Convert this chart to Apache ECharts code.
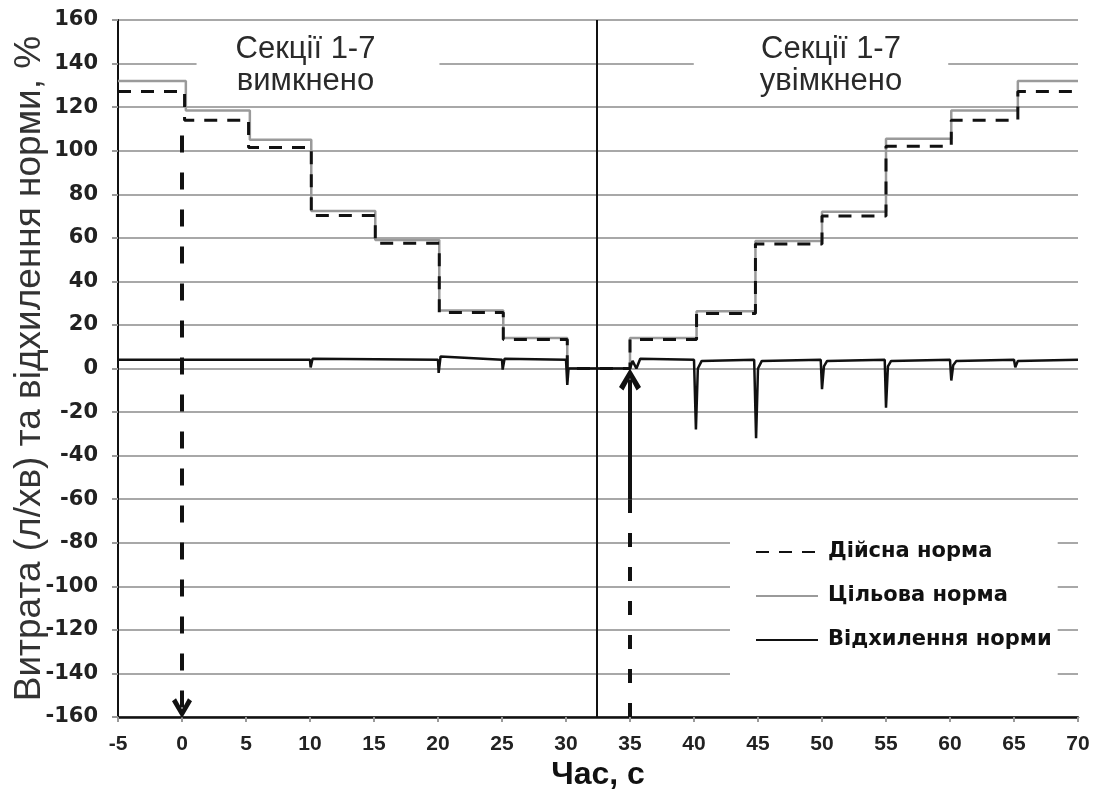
<!DOCTYPE html>
<html>
<head>
<meta charset="utf-8">
<title>Витрата та відхилення норми</title>
<script src="https://cdn.jsdelivr.net/npm/echarts@6.0.0/dist/echarts.min.js"></script>
<style>
    html, body {margin: 0; padding: 0; background: #fff;}
    #chart_1 {width: 1100px; height: 791px;}
</style>
</head>
<body>
<div id="chart_1"></div>
<script>
// series names (legend order)
var seriesNames = ['Дійсна норма', 'Цільова норма', 'Відхилення норми'];

// actual rate, dashed black
var actualNorm = [
    [-5, 127.2], [0.2, 127.2], [0.2, 114], [5.2, 114], [5.2, 101.5], [10.1, 101.5],
    [10.1, 70.2], [15.1, 70.2], [15.1, 57.5], [20.1, 57.5], [20.1, 25.7], [25.1, 25.7],
    [25.1, 13.3], [30.1, 13.3], [30.1, 0], [35.0, 0], [35.0, 13.3], [40.2, 13.3],
    [40.2, 25.2], [44.8, 25.2], [44.8, 57.2], [50.0, 57.2], [50.0, 70], [55.0, 70],
    [55.0, 102], [60.1, 102], [60.1, 114], [65.3, 114], [65.3, 127.2], [70, 127.2]
];

// target rate, grey
var targetNorm = [
    [-5, 132], [0.3, 132], [0.3, 118.5], [5.3, 118.5], [5.3, 105], [10.1, 105],
    [10.1, 72.3], [15.1, 72.3], [15.1, 59], [20.1, 59], [20.1, 26.6], [25.1, 26.6],
    [25.1, 14], [30.1, 14], [30.1, 0], [35.0, 0], [35.0, 14], [40.2, 14],
    [40.2, 26.3], [44.8, 26.3], [44.8, 58.5], [50.0, 58.5], [50.0, 72], [55.0, 72],
    [55.0, 105.5], [60.1, 105.5], [60.1, 118.5], [65.3, 118.5], [65.3, 132], [70, 132]
];

// deviation of the rate, black
var normDeviation = [
    [-5, 4], [10.0, 4], [10.05, 0.5], [10.2, 4.5], [20.0, 4], [20.05, -2], [20.2, 5.5],
    [25.0, 4], [25.05, -0.5], [25.2, 4.5], [30.0, 4], [30.1, -7.5], [30.2, 0],
    [35.0, 0], [35.2, 3.5], [35.5, 0], [35.8, 4.5], [40.0, 4], [40.15, -28],
    [40.3, 0], [40.6, 3.5], [44.7, 4], [44.85, -32], [45.0, 0], [45.3, 3.5],
    [49.9, 4], [50.0, -9.5], [50.15, 1], [50.4, 3.5], [54.9, 4], [55.0, -18],
    [55.15, 1], [55.4, 3.5], [60.0, 4], [60.1, -5.5], [60.25, 1.5], [60.5, 3.5],
    [65.0, 4], [65.1, 0.5], [65.3, 3.5], [70, 4]
];

// divider and arrows
var switchTime = 32.4;
var offArrow = [[0, 107], [0, -156]];
var onDashed = [[35, -160], [35, -60]];
var onArrow = [[35, -60], [35, -5]];

var chevron = 'path://M10,0 L20,17 L16,20 L10,9 L4,20 L0,17 Z';

var myChart = echarts.init(document.getElementById('chart_1'));

var option = {
    animation: false,
    grid: {left: 118, right: 22, top: 20, bottom: 74, outerBoundsMode: 'none'},
    legend: {
        data: seriesNames,
        orient: 'vertical',
        left: 730,
        top: 527,
        itemWidth: 62,
        itemHeight: 14,
        itemGap: 22,
        padding: [14, 6, 26, 25],
        backgroundColor: '#fff',
        itemStyle: {opacity: 0},
        textStyle: {
            fontFamily: 'DejaVu Sans',
            fontWeight: 'bold',
            fontSize: 21,
            lineHeight: 22,
            padding: [0, 0, 0, 5],
            color: '#111'
        }
    },
    xAxis: {
        type: 'value',
        min: -5,
        max: 70,
        interval: 5,
        name: 'Час, с',
        nameLocation: 'middle',
        nameGap: 42,
        nameMoveOverlap: false,
        nameTextStyle: {fontFamily: 'Liberation Sans', fontWeight: 'bold', fontSize: 32, color: '#111'},
        axisLine: {onZero: false, lineStyle: {color: '#111', width: 2.5}},
        axisTick: {show: true, length: 5, lineStyle: {color: '#999', width: 2}},
        axisLabel: {
            margin: 17,
            fontFamily: 'Liberation Sans',
            fontWeight: 'bold',
            fontSize: 21,
            color: '#222'
        },
        splitLine: {show: false}
    },
    yAxis: {
        type: 'value',
        min: -160,
        max: 160,
        interval: 20,
        name: 'Витрата (л/хв) та відхилення норми, %',
        nameLocation: 'middle',
        nameGap: 70,
        nameMoveOverlap: false,
        nameTextStyle: {fontFamily: 'Liberation Sans', fontSize: 37, color: '#333'},
        axisLine: {show: true, onZero: false, lineStyle: {color: '#111', width: 2}},
        axisTick: {show: true, length: 6, lineStyle: {color: '#999', width: 2}},
        axisLabel: {
            margin: 20,
            fontFamily: 'DejaVu Sans',
            fontWeight: 'bold',
            fontSize: 21,
            color: '#222'
        },
        splitLine: {lineStyle: {color: '#a8a8a8', width: 2}}
    },
    graphic: [
        {
            type: 'text', x: 318, y: 30, z: 10,
            style: {
                text: 'Секції 1-7\nвимкнено',
                align: 'center', verticalAlign: 'top',
                fontFamily: 'Liberation Sans', fontSize: 31, lineHeight: 32,
                fill: '#2a2a2a', backgroundColor: '#fff', padding: [3, 64, 2, 39]
            }
        },
        {
            type: 'text', x: 821, y: 30, z: 10,
            style: {
                text: 'Секції 1-7\nувімкнено',
                align: 'center', verticalAlign: 'top',
                fontFamily: 'Liberation Sans', fontSize: 31, lineHeight: 32,
                fill: '#2a2a2a', backgroundColor: '#fff', padding: [3, 46, 2, 66]
            }
        }
    ],
    series: [
        {
            name: seriesNames[1],
            type: 'line',
            symbol: 'none',
            data: targetNorm,
            lineStyle: {color: '#9a9a9a', width: 2.5},
            itemStyle: {color: '#9a9a9a'}
        },
        {
            name: seriesNames[0],
            type: 'line',
            symbol: 'none',
            data: actualNorm,
            lineStyle: {color: '#111', width: 3, type: [13, 10]},
            itemStyle: {color: '#111'}
        },
        {
            name: seriesNames[2],
            type: 'line',
            symbol: 'none',
            data: normDeviation,
            lineStyle: {color: '#111', width: 2.5},
            itemStyle: {color: '#111'},
            markLine: {
                silent: true,
                animation: false,
                label: {show: false},
                data: [
                    [
                        {coord: [switchTime, 160], symbol: 'none'},
                        {coord: [switchTime, -160], symbol: 'none', lineStyle: {color: '#111', width: 2, type: 'solid'}}
                    ],
                    [
                        {coord: offArrow[0], symbol: 'none'},
                        {coord: offArrow[1], symbol: chevron, symbolSize: [20, 20],
                            lineStyle: {color: '#111', width: 4, type: [17, 20]}}
                    ],
                    [
                        {coord: onDashed[0], symbol: 'none'},
                        {coord: onDashed[1], symbol: 'none', lineStyle: {color: '#111', width: 4, type: [14, 20]}}
                    ],
                    [
                        {coord: onArrow[0], symbol: 'none'},
                        {coord: onArrow[1], symbol: chevron, symbolSize: [22, 22],
                            lineStyle: {color: '#111', width: 4, type: 'solid'}}
                    ]
                ]
            }
        }
    ]
};

myChart.setOption(option);
window.addEventListener('resize', function () {
    myChart.resize();
});
</script>
</body>
</html>
